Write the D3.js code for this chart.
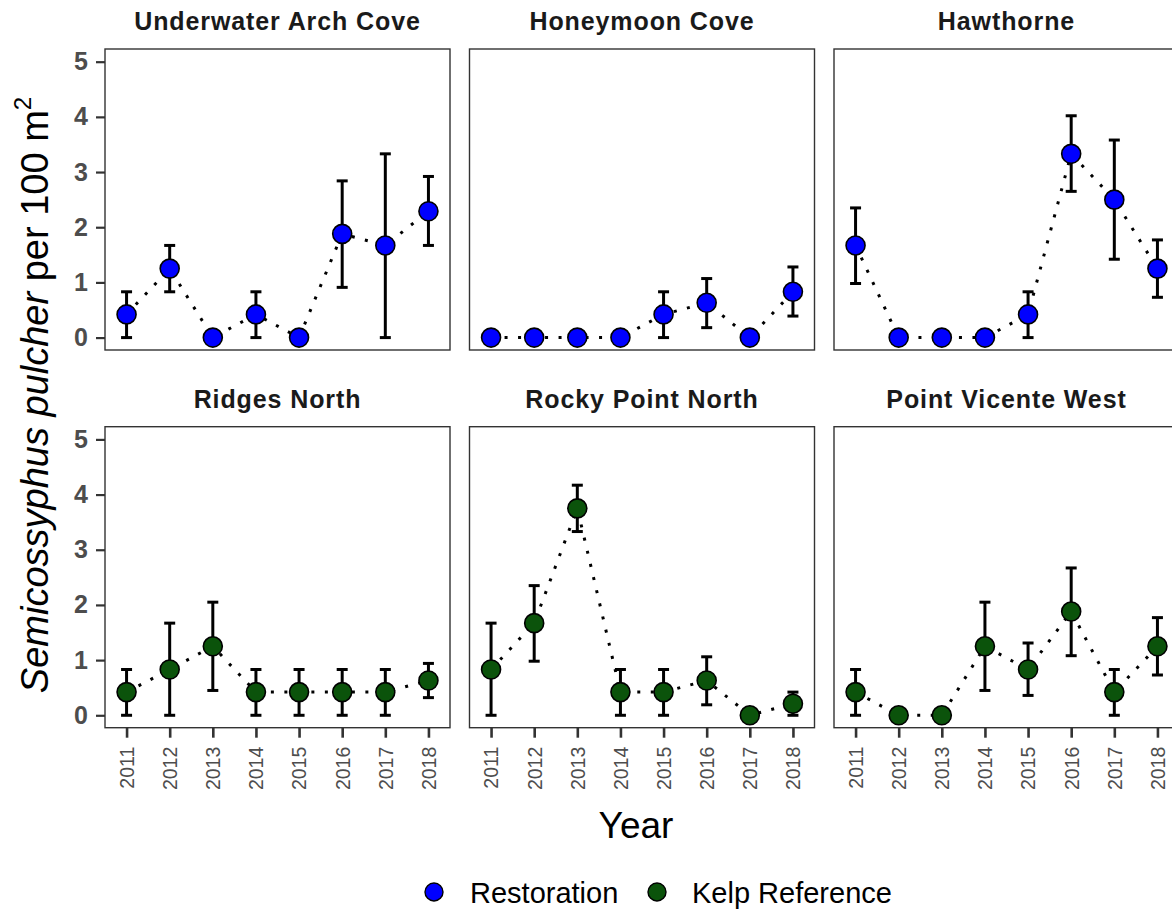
<!DOCTYPE html>
<html><head><meta charset="utf-8">
<script src="https://cdn.jsdelivr.net/npm/d3@7"></script>
<style>body{margin:0;background:#fff}text{font-family:"Liberation Sans",Arial,sans-serif}</style>
</head><body><svg id="c" width="1172" height="913"></svg>
<script>
const years = [2011,2012,2013,2014,2015,2016,2017,2018];
const sites = ["Underwater Arch Cove","Honeymoon Cove","Hawthorne","Ridges North","Rocky Point North","Point Vicente West"];
const siteType = ["Restoration","Restoration","Restoration","Kelp Reference","Kelp Reference","Kelp Reference"];
const meanUAC = [0.42,1.25,0,0.42,0,1.88,1.67,2.29];
const loUAC   = [0,0.83,0,0,0,0.91,0,1.67];
const hiUAC   = [0.83,1.67,0,0.83,0,2.84,3.33,2.92];
const meanHC = [0,0,0,0,0.42,0.63,0,0.83];
const loHC   = [0,0,0,0,0,0.18,0,0.39];
const hiHC   = [0,0,0,0,0.83,1.07,0,1.28];
const meanHaw = [1.67,0,0,0,0.42,3.33,2.5,1.25];
const loHaw   = [0.98,0,0,0,0,2.65,1.42,0.73];
const hiHaw   = [2.35,0,0,0,0.83,4.02,3.58,1.77];
const meanRN = [0.42,0.83,1.25,0.42,0.42,0.42,0.42,0.63];
const loRN   = [0,0,0.45,0,0,0,0,0.32];
const hiRN   = [0.83,1.67,2.05,0.83,0.83,0.83,0.83,0.94];
const meanRPN = [0.83,1.67,3.75,0.42,0.42,0.63,0,0.21];
const loRPN   = [0,0.98,3.33,0,0,0.19,0,0];
const hiRPN   = [1.67,2.35,4.17,0.83,0.83,1.06,0,0.42];
const meanPVW = [0.42,0,0,1.25,0.83,1.88,0.42,1.25];
const loPVW   = [0,0,0,0.45,0.36,1.08,0,0.73];
const hiPVW   = [0.83,0,0,2.05,1.31,2.67,0.83,1.77];
const yTicks = [0,1,2,3,4,5];
const legendLabels = ["Restoration","Kelp Reference"];

const means = [meanUAC,meanHC,meanHaw,meanRN,meanRPN,meanPVW];
const los = [loUAC,loHC,loHaw,loRN,loRPN,loPVW];
const his = [hiUAC,hiHC,hiHaw,hiRN,hiRPN,hiPVW];
const colors = {"Restoration":"#0000ff","Kelp Reference":"#0b530b"};

const svg = d3.select("#c");
const W = 345, H = 301;
const lefts = [105, 469.5, 834], tops = [49, 426.7];
const x = d3.scaleLinear().domain([2010.5,2018.5]).range([0,W]);
const y = d3.scaleLinear().domain([-0.225,5.23]).range([H,0]);
const line = d3.line().x(d=>x(d.year)).y(d=>y(d.mean));

sites.forEach((s,i)=>{
  const col = i%3, row = Math.floor(i/3);
  const g = svg.append("g").attr("transform",`translate(${lefts[col]},${tops[row]})`);
  const data = years.map((yr,j)=>({year:yr,mean:means[i][j],lo:los[i][j],hi:his[i][j]}));
  g.append("rect").attr("width",W).attr("height",H).attr("fill","#fff");
  g.append("text").attr("x",W/2).attr("y",-19).attr("text-anchor","middle")
    .attr("font-size",25).attr("font-weight","bold").attr("letter-spacing",0.9).attr("fill","#1a1a1a").text(s);
  g.append("path").datum(data).attr("d",line).attr("fill","none").attr("stroke","#000")
    .attr("stroke-width",3).attr("stroke-dasharray","3 10.5");
  const eb = g.append("g").attr("stroke","#000").attr("stroke-width",3);
  data.forEach(d=>{
    eb.append("line").attr("x1",x(d.year)).attr("x2",x(d.year)).attr("y1",y(d.lo)).attr("y2",y(d.hi));
    [d.lo,d.hi].forEach(v=>eb.append("line").attr("x1",x(d.year)-5.5).attr("x2",x(d.year)+5.5).attr("y1",y(v)).attr("y2",y(v)));
  });
  g.selectAll("circle").data(data).join("circle").attr("cx",d=>x(d.year)).attr("cy",d=>y(d.mean))
    .attr("r",9.5).attr("fill",colors[siteType[i]]).attr("stroke","#000").attr("stroke-width",1.6);
  g.append("rect").attr("width",W).attr("height",H).attr("fill","none").attr("stroke","#333").attr("stroke-width",1.4);
  if(col===0){
    const ax = g.append("g").call(d3.axisLeft(y).tickValues(yTicks).tickSize(9).tickPadding(8).tickFormat(d3.format("d")));
    ax.select(".domain").remove();
    ax.selectAll("line").attr("stroke","#333").attr("stroke-width",2.2);
    ax.selectAll("text").attr("font-size",25).attr("font-weight","bold").attr("fill","#4d4d4d")
      .attr("font-family","Liberation Sans, Arial, sans-serif");
  }
  if(row===1){
    const ax = g.append("g").attr("transform",`translate(0,${H})`).call(d3.axisBottom(x).tickValues(years).tickSize(10).tickFormat(d3.format("d")));
    ax.select(".domain").remove();
    ax.selectAll("line").attr("stroke","#333").attr("stroke-width",2.6);
    ax.selectAll("text").attr("font-size",19.5).attr("fill","#4d4d4d")
      .attr("font-family","Liberation Sans, Arial, sans-serif")
      .attr("transform","rotate(-90)").attr("text-anchor","end").attr("dy","0.35em")
      .attr("x",-19).attr("y",0);
  }
});

svg.append("text").attr("transform","translate(48,395) rotate(-90)").attr("text-anchor","middle")
  .attr("font-size",38).attr("fill","#000")
  .call(t=>{
    t.append("tspan").attr("font-style","italic").text("Semicossyphus pulcher");
    t.append("tspan").text(" per 100 m");
    t.append("tspan").attr("font-size",24).attr("dy",-17).text("2");
  });
svg.append("text").attr("x",636).attr("y",838).attr("text-anchor","middle").attr("font-size",37).attr("fill","#000").text("Year");

const lg = svg.append("g");
const lx = [434, 657], tx = [470, 692];
legendLabels.forEach((l,i)=>{
  lg.append("circle").attr("cx",lx[i]).attr("cy",892).attr("r",9).attr("fill",colors[l]).attr("stroke","#000").attr("stroke-width",1.4);
  lg.append("text").attr("x",tx[i]).attr("y",902.5).attr("font-size",29).attr("fill","#000").text(l);
});
</script></body></html>
